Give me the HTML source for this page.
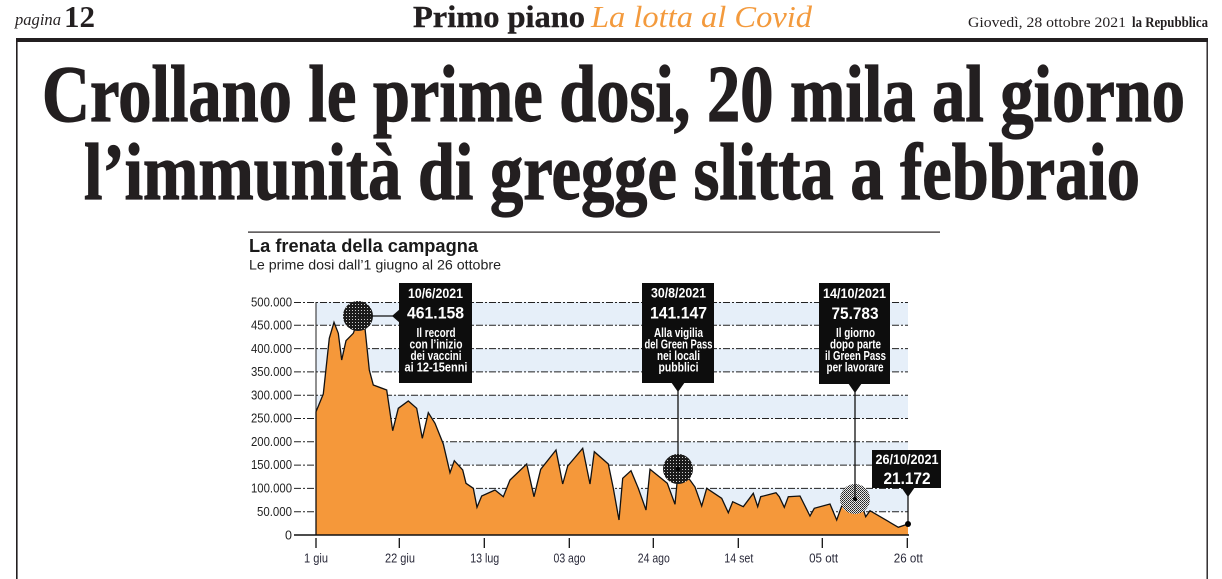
<!DOCTYPE html>
<html><head><meta charset="utf-8"><style>
html,body{margin:0;padding:0;background:#fff;}
svg{display:block;}
</style></head><body>
<svg width="1222" height="579" viewBox="0 0 1222 579" xmlns="http://www.w3.org/2000/svg">
<defs>
<pattern id="dk" width="3" height="3" patternUnits="userSpaceOnUse"><rect width="3" height="3" fill="#1b1b1b"/><rect x="1" y="1" width="1" height="1" fill="#cfcfcf"/></pattern>
<pattern id="lt" width="2" height="2" patternUnits="userSpaceOnUse"><rect width="2" height="2" fill="#e8e8e8"/><rect x="0" y="0" width="1" height="1" fill="#222"/><rect x="1" y="1" width="1" height="1" fill="#444"/></pattern>
</defs>
<rect width="1222" height="579" fill="#fff"/>

<!-- header -->
<text x="15" y="25" font-family="Liberation Serif, serif" font-style="italic" font-size="17" fill="#231f20" textLength="46" lengthAdjust="spacingAndGlyphs">pagina</text>
<text x="64" y="27" font-family="Liberation Serif, serif" font-weight="bold" font-size="31" fill="#231f20" textLength="31" lengthAdjust="spacingAndGlyphs">12</text>
<text x="413" y="27" font-family="Liberation Serif, serif" font-weight="bold" font-size="31" fill="#231f20" stroke="#231f20" stroke-width="0.4" textLength="172" lengthAdjust="spacingAndGlyphs">Primo piano</text>
<text x="591" y="27" font-family="Liberation Serif, serif" font-style="italic" font-size="31" fill="#f39a3d" textLength="221" lengthAdjust="spacingAndGlyphs">La lotta al Covid</text>
<text x="968" y="27" font-family="Liberation Serif, serif" font-size="15" fill="#231f20" textLength="158" lengthAdjust="spacingAndGlyphs">Giovedì, 28 ottobre 2021</text>
<text x="1132" y="27" font-family="Liberation Serif, serif" font-weight="bold" font-size="15" fill="#231f20" textLength="76" lengthAdjust="spacingAndGlyphs">la Repubblica</text>
<rect x="16" y="38" width="1192" height="4" fill="#231f20"/>
<rect x="16" y="38" width="1.6" height="541" fill="#231f20"/>
<rect x="1206.5" y="38" width="1.4" height="541" fill="#231f20"/>

<!-- title -->
<text x="42" y="121" font-family="Liberation Serif, serif" font-weight="bold" font-size="80" fill="#231f20" stroke="#231f20" stroke-width="1.2" textLength="1143" lengthAdjust="spacingAndGlyphs">Crollano le prime dosi, 20 mila al giorno</text>
<text x="84" y="199" font-family="Liberation Serif, serif" font-weight="bold" font-size="80" fill="#231f20" stroke="#231f20" stroke-width="1.2" textLength="1056" lengthAdjust="spacingAndGlyphs">l’immunità di gregge slitta a febbraio</text>

<!-- chart header -->
<rect x="248" y="231.5" width="692" height="1.2" fill="#231f20"/>
<text x="249" y="252" font-family="Liberation Sans, sans-serif" font-weight="bold" font-size="18" fill="#1a1a1a" textLength="229" lengthAdjust="spacingAndGlyphs">La frenata della campagna</text>
<text x="249" y="269.5" font-family="Liberation Sans, sans-serif" font-size="14" fill="#222" textLength="252" lengthAdjust="spacingAndGlyphs">Le prime dosi dall’1 giugno al 26 ottobre</text>

<!-- bands -->
<g fill="#e6eff9">
<rect x="316" y="302" width="592" height="23.3"/>
<rect x="316" y="348.6" width="592" height="23.3"/>
<rect x="316" y="395.2" width="592" height="23.3"/>
<rect x="316" y="441.8" width="592" height="23.3"/>
<rect x="316" y="488.4" width="592" height="23.3"/>
</g>
<!-- grid -->
<g stroke="#222" stroke-width="1" stroke-dasharray="7 2 2 2" fill="none">
<line x1="294" y1="302.5" x2="908" y2="302.5"/>
<line x1="294" y1="325.3" x2="908" y2="325.3"/>
<line x1="294" y1="348.6" x2="908" y2="348.6"/>
<line x1="294" y1="371.9" x2="908" y2="371.9"/>
<line x1="294" y1="395.2" x2="908" y2="395.2"/>
<line x1="294" y1="418.5" x2="908" y2="418.5"/>
<line x1="294" y1="441.8" x2="908" y2="441.8"/>
<line x1="294" y1="465.1" x2="908" y2="465.1"/>
<line x1="294" y1="488.4" x2="908" y2="488.4"/>
<line x1="294" y1="511.7" x2="908" y2="511.7"/>
</g>
<line x1="316" y1="302" x2="316" y2="535" stroke="#222" stroke-width="1"/>
<!-- y labels -->
<g font-family="Liberation Sans, sans-serif" font-size="12.5" fill="#222" text-anchor="end">
<text x="292" y="306.5" textLength="41" lengthAdjust="spacingAndGlyphs">500.000</text>
<text x="292" y="329.5" textLength="41" lengthAdjust="spacingAndGlyphs">450.000</text>
<text x="292" y="353" textLength="41" lengthAdjust="spacingAndGlyphs">400.000</text>
<text x="292" y="376" textLength="41" lengthAdjust="spacingAndGlyphs">350.000</text>
<text x="292" y="399.5" textLength="41" lengthAdjust="spacingAndGlyphs">300.000</text>
<text x="292" y="422.5" textLength="41" lengthAdjust="spacingAndGlyphs">250.000</text>
<text x="292" y="446" textLength="41" lengthAdjust="spacingAndGlyphs">200.000</text>
<text x="292" y="469" textLength="41" lengthAdjust="spacingAndGlyphs">150.000</text>
<text x="292" y="492.5" textLength="41" lengthAdjust="spacingAndGlyphs">100.000</text>
<text x="292" y="516" textLength="35" lengthAdjust="spacingAndGlyphs">50.000</text>
<text x="292" y="539.5">0</text>
</g>

<!-- area -->
<path fill="#f5983a" stroke="none" d="M316,535 L316,411.7 L323.3,394 L329.3,338.3 L334,322.3 L338.3,333.3 L341.7,360 L346,340.7 L353.3,333.3 L358.3,319.3 L365,328.3 L369.3,370 L373.3,385 L386.7,390 L392.7,430.7 L398.3,408.3 L408.3,401 L416.7,408.3 L422.3,438.3 L428.3,412.7 L435,423.3 L443.3,444 L450,472.7 L454.3,460.7 L462.7,470 L466,483.3 L473.3,488.3 L477,507.3 L481.7,496 L495,490 L503.3,496.7 L510,480 L526.7,464 L534,496.7 L540.7,469.3 L556,450 L562.7,484 L567.7,466 L582.7,448.3 L590,484 L594.3,451.7 L608.3,464 L613.3,488.3 L619,520 L622.7,478.3 L631,470.7 L638.3,488.3 L646,510 L650,469.3 L667.3,483.3 L675,504.3 L678.3,469.3 L690,480 L695,487 L701.7,506 L706.7,488.3 L721.7,498.3 L728.3,512.7 L732.7,501.7 L743.3,506.7 L753.3,493.3 L757.7,506.7 L760.7,496.7 L776,492.7 L779.3,496.7 L784.3,507.3 L788.3,496.7 L800,496 L810,516 L814.3,508.3 L830,504 L836.7,520 L841.7,506 L855.7,499 L860.7,501.7 L865.7,516.7 L870,510.7 L898.3,527.3 L908,524 L908,535 Z"/>
<path fill="none" stroke="#111" stroke-width="1.3" stroke-linejoin="miter" d="M316,535 L316,411.7 L323.3,394 L329.3,338.3 L334,322.3 L338.3,333.3 L341.7,360 L346,340.7 L353.3,333.3 L358.3,319.3 L365,328.3 L369.3,370 L373.3,385 L386.7,390 L392.7,430.7 L398.3,408.3 L408.3,401 L416.7,408.3 L422.3,438.3 L428.3,412.7 L435,423.3 L443.3,444 L450,472.7 L454.3,460.7 L462.7,470 L466,483.3 L473.3,488.3 L477,507.3 L481.7,496 L495,490 L503.3,496.7 L510,480 L526.7,464 L534,496.7 L540.7,469.3 L556,450 L562.7,484 L567.7,466 L582.7,448.3 L590,484 L594.3,451.7 L608.3,464 L613.3,488.3 L619,520 L622.7,478.3 L631,470.7 L638.3,488.3 L646,510 L650,469.3 L667.3,483.3 L675,504.3 L678.3,469.3 L690,480 L695,487 L701.7,506 L706.7,488.3 L721.7,498.3 L728.3,512.7 L732.7,501.7 L743.3,506.7 L753.3,493.3 L757.7,506.7 L760.7,496.7 L776,492.7 L779.3,496.7 L784.3,507.3 L788.3,496.7 L800,496 L810,516 L814.3,508.3 L830,504 L836.7,520 L841.7,506 L855.7,499 L860.7,501.7 L865.7,516.7 L870,510.7 L898.3,527.3 L908,524"/>

<!-- baseline & ticks -->
<line x1="294" y1="535" x2="909" y2="535" stroke="#111" stroke-width="1.4"/>
<g stroke="#111" stroke-width="1.3">
<line x1="316" y1="538" x2="316" y2="548"/>
<line x1="399.3" y1="538" x2="399.3" y2="548"/>
<line x1="484.3" y1="538" x2="484.3" y2="548"/>
<line x1="569.3" y1="538" x2="569.3" y2="548"/>
<line x1="653.3" y1="538" x2="653.3" y2="548"/>
<line x1="738.3" y1="538" x2="738.3" y2="548"/>
<line x1="822.3" y1="538" x2="822.3" y2="548"/>
<line x1="907.3" y1="538" x2="907.3" y2="548"/>
</g>
<g font-family="Liberation Sans, sans-serif" font-size="12.5" fill="#2a2a3a" text-anchor="middle">
<text x="316" y="562.5" textLength="24" lengthAdjust="spacingAndGlyphs">1 giu</text>
<text x="400" y="562.5" textLength="30" lengthAdjust="spacingAndGlyphs">22 giu</text>
<text x="484.7" y="562.5" textLength="29" lengthAdjust="spacingAndGlyphs">13 lug</text>
<text x="569.5" y="562.5" textLength="32" lengthAdjust="spacingAndGlyphs">03 ago</text>
<text x="653.8" y="562.5" textLength="32" lengthAdjust="spacingAndGlyphs">24 ago</text>
<text x="738.8" y="562.5" textLength="29" lengthAdjust="spacingAndGlyphs">14 set</text>
<text x="823.6" y="562.5" textLength="29" lengthAdjust="spacingAndGlyphs">05 ott</text>
<text x="908.3" y="562.5" textLength="29" lengthAdjust="spacingAndGlyphs">26 ott</text>
</g>

<!-- circles -->
<circle cx="358" cy="316" r="15" fill="url(#dk)"/>
<circle cx="678" cy="469" r="15" fill="url(#dk)"/>
<circle cx="855" cy="499" r="15" fill="url(#lt)"/>

<!-- annotation lines -->
<g stroke="#111" stroke-width="1.3">
<line x1="358" y1="316" x2="393" y2="316"/>
<line x1="678" y1="391" x2="678" y2="469"/>
<line x1="855" y1="392" x2="855" y2="499"/>
<line x1="908" y1="496" x2="908" y2="524"/>
</g>
<circle cx="678" cy="469" r="2" fill="#000"/>
<circle cx="855" cy="499" r="2" fill="#000"/>
<circle cx="908" cy="524" r="3" fill="#000"/>

<!-- boxes -->
<g fill="#0d0d0d">
<rect x="399" y="283" width="73" height="100"/>
<polygon points="400,309 400,323 392,316"/>
<rect x="642" y="283" width="72" height="100"/>
<polygon points="671,382 685,382 678,392"/>
<rect x="819" y="283" width="71" height="101"/>
<polygon points="848,383 862,383 855,393"/>
<rect x="872" y="450" width="69" height="38"/>
<polygon points="901,487 915,487 908,497"/>
</g>
<g font-family="Liberation Sans, sans-serif" font-weight="bold" fill="#fff" text-anchor="middle">
<text x="435.5" y="298" font-size="14" textLength="55" lengthAdjust="spacingAndGlyphs">10/6/2021</text>
<text x="435.5" y="318.5" font-size="17" textLength="57" lengthAdjust="spacingAndGlyphs">461.158</text>
<text x="436" y="337" font-size="13" textLength="39" lengthAdjust="spacingAndGlyphs">Il record</text>
<text x="436" y="348.5" font-size="13" textLength="53" lengthAdjust="spacingAndGlyphs">con l’inizio</text>
<text x="436" y="360" font-size="13" textLength="51" lengthAdjust="spacingAndGlyphs">dei vaccini</text>
<text x="436" y="371.5" font-size="13" textLength="63" lengthAdjust="spacingAndGlyphs">ai 12-15enni</text>

<text x="678.5" y="297.5" font-size="14" textLength="55" lengthAdjust="spacingAndGlyphs">30/8/2021</text>
<text x="678.5" y="318.5" font-size="17" textLength="57" lengthAdjust="spacingAndGlyphs">141.147</text>
<text x="678.5" y="337" font-size="13" textLength="49" lengthAdjust="spacingAndGlyphs">Alla vigilia</text>
<text x="678.5" y="348.5" font-size="13" textLength="68" lengthAdjust="spacingAndGlyphs">del Green Pass</text>
<text x="678.5" y="360" font-size="13" textLength="43" lengthAdjust="spacingAndGlyphs">nei locali</text>
<text x="678.5" y="371.5" font-size="13" textLength="40" lengthAdjust="spacingAndGlyphs">pubblici</text>

<text x="854.5" y="298" font-size="14" textLength="63" lengthAdjust="spacingAndGlyphs">14/10/2021</text>
<text x="855" y="319" font-size="17" textLength="47" lengthAdjust="spacingAndGlyphs">75.783</text>
<text x="855.5" y="337" font-size="13" textLength="39" lengthAdjust="spacingAndGlyphs">Il giorno</text>
<text x="855.5" y="348.5" font-size="13" textLength="51" lengthAdjust="spacingAndGlyphs">dopo parte</text>
<text x="855.5" y="360" font-size="13" textLength="61" lengthAdjust="spacingAndGlyphs">il Green Pass</text>
<text x="855" y="371.5" font-size="13" textLength="57" lengthAdjust="spacingAndGlyphs">per lavorare</text>

<text x="907" y="464" font-size="14" textLength="63" lengthAdjust="spacingAndGlyphs">26/10/2021</text>
<text x="907" y="484" font-size="17" textLength="47" lengthAdjust="spacingAndGlyphs">21.172</text>
</g>
</svg>
</body></html>
